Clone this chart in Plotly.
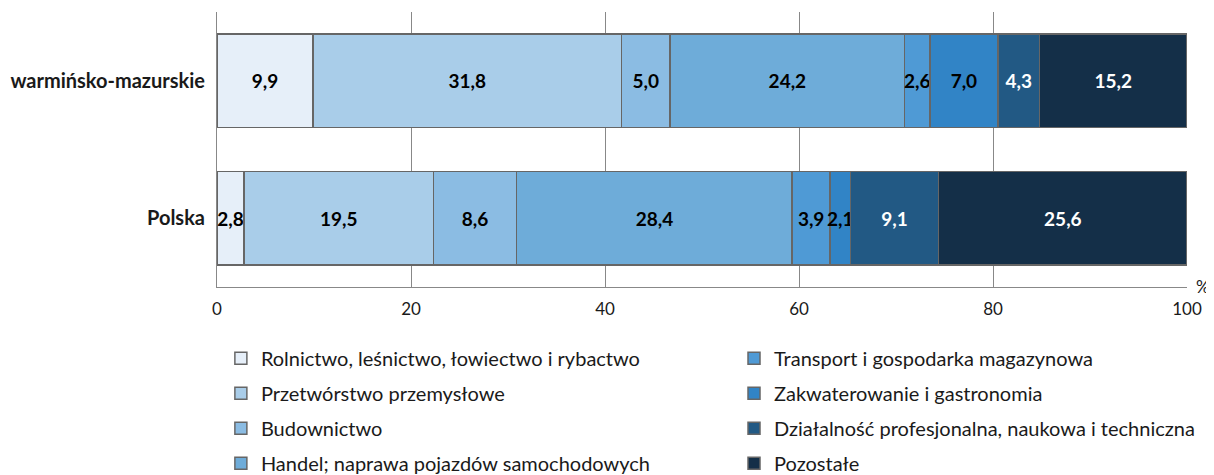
import plotly.graph_objects as go

# -----------------------------------
# Data
# -----------------------------------
regions = ["warmińsko-mazurskie", "Polska"]

sections = [
    "Rolnictwo, leśnictwo, łowiectwo i rybactwo",
    "Przetwórstwo przemysłowe",
    "Budownictwo",
    "Handel; naprawa pojazdów samochodowych",
    "Transport i gospodarka magazynowa",
    "Zakwaterowanie i gastronomia",
    "Działalność profesjonalna, naukowa i techniczna",
    "Pozostałe",
]

warminsko = [9.9, 31.8, 5.0, 24.2, 2.6, 7.0, 4.3, 15.2]
polska = [2.8, 19.5, 8.6, 28.4, 3.9, 2.1, 9.1, 25.6]

colors = ["#E6EFF9", "#A9CDE9", "#8BBCE3", "#6EACD9",
          "#4F9AD5", "#3184C6", "#225984", "#142F48"]
text_colors = ["black"] * 6 + ["white"] * 2

x_ticks = [0, 20, 40, 60, 80, 100]

FONT = "Lato, 'Open Sans', sans-serif"

# -----------------------------------
# Figure
# (page body has an 8px margin, so size/margins are shifted by 8px)
# -----------------------------------
fig = go.Figure()

for i, name in enumerate(sections):
    vals = [warminsko[i], polska[i]]
    fig.add_trace(
        go.Bar(
            y=regions,
            x=vals,
            name=name,
            orientation="h",
            marker=dict(color=colors[i], line=dict(color="#666666", width=1.5)),
            text=[f"{v:.1f}".replace(".", ",") for v in vals],
            textposition="inside",
            insidetextanchor="middle",
            constraintext="none",
            textangle=0,
            textfont=dict(family=FONT, size=19, color=text_colors[i], weight="bold"),
            legend="legend" if i < 4 else "legend2",
            legendgroup=f"g{i}",
            hoverinfo="x+name",
        )
    )

# legends placed in container coords so they don't push the bottom margin
legend_style = dict(
    orientation="v",
    font=dict(family=FONT, size=20, color="#1a1a1a"),
    traceorder="grouped",
    tracegroupgap=6,
    yref="container",
    yanchor="top",
    y=0.292,
    bgcolor="rgba(0,0,0,0)",
    itemwidth=30,
)

fig.update_layout(
    barmode="stack",
    bargap=0.32,
    width=1206,
    height=467,
    margin=dict(l=209, r=27, t=4, b=188, autoexpand=False),
    plot_bgcolor="white",
    paper_bgcolor="white",
    font=dict(family=FONT, size=17, color="#1a1a1a"),
    legend=dict(x=0.004, xanchor="left", **legend_style),
    legend2=dict(x=0.533, xanchor="left", **legend_style),
    annotations=[
        dict(text="%", x=1.0, y=0, xref="paper", yref="paper",
             xanchor="left", yanchor="middle", xshift=7, yshift=1,
             showarrow=False,
             font=dict(family=FONT, size=17, color="#1a1a1a"))
    ],
)

fig.update_xaxes(
    range=[0, 100],
    tickvals=x_ticks,
    showgrid=True,
    gridcolor="#888888",
    gridwidth=1,
    showline=True,
    linecolor="#888888",
    linewidth=1,
    ticks="",
    ticklabelstandoff=7,
    tickfont=dict(family=FONT, size=17, color="#1a1a1a"),
    zeroline=False,
)

fig.update_yaxes(
    categoryorder="array",
    categoryarray=regions[::-1],
    showline=True,
    linecolor="#888888",
    linewidth=1,
    ticks="",
    ticklabelstandoff=7,
    tickfont=dict(family=FONT, size=20, color="#1a1a1a", weight="bold"),
)

fig.write_html("out.html")
